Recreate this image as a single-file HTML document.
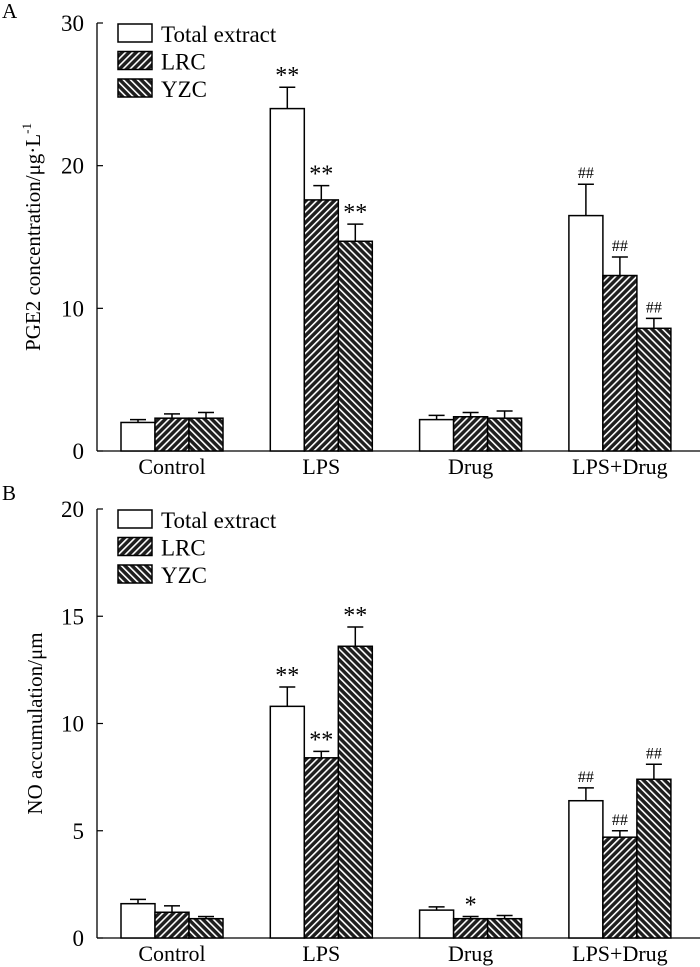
<!DOCTYPE html>
<html><head><meta charset="utf-8">
<style>
body{margin:0;background:#fff;}
svg{display:block;font-family:"Liberation Serif",serif;}
</style></head>
<body>
<svg id="chart" width="700" height="967" viewBox="0 0 700 967" xmlns="http://www.w3.org/2000/svg">
<defs>
<pattern id="pLRC" patternUnits="userSpaceOnUse" width="5" height="5" patternTransform="rotate(45)">
<rect width="5" height="5" fill="#1e1e1e"/><rect x="0" y="0" width="1.6" height="5" fill="#fff"/>
</pattern>
<pattern id="pYZC" patternUnits="userSpaceOnUse" width="5" height="5" patternTransform="rotate(-45)">
<rect width="5" height="5" fill="#1e1e1e"/><rect x="0" y="0" width="1.6" height="5" fill="#fff"/>
</pattern>
</defs>
<g id="root"></g>
</svg>
<script>
const categories = ["Control","LPS","Drug","LPS+Drug"];
const seriesNames = ["Total extract","LRC","YZC"];
// Panel A: PGE2
const pgeTotal = [2.0, 24.0, 2.2, 16.5];
const pgeLRC   = [2.3, 17.6, 2.4, 12.3];
const pgeYZC   = [2.3, 14.7, 2.3, 8.6];
const pgeTotalErr = [0.2, 1.5, 0.3, 2.2];
const pgeLRCErr   = [0.3, 1.0, 0.3, 1.3];
const pgeYZCErr   = [0.4, 1.2, 0.5, 0.7];
const pgeMarks = [["","",""],["**","**","**"],["","",""],["##","##","##"]];
const pgeTicks = [0,10,20,30];
// Panel B: NO
const noTotal = [1.6, 10.8, 1.3, 6.4];
const noLRC   = [1.2, 8.4, 0.9, 4.7];
const noYZC   = [0.9, 13.6, 0.9, 7.4];
const noTotalErr = [0.2, 0.9, 0.15, 0.6];
const noLRCErr   = [0.3, 0.3, 0.1, 0.3];
const noYZCErr   = [0.1, 0.9, 0.15, 0.7];
const noMarks = [["","",""],["**","**","**"],["","*",""],["##","##","##"]];
const noTicks = [0,5,10,15,20];

const NS="http://www.w3.org/2000/svg";
const root=document.getElementById('root');
function el(tag,attrs,parent){const e=document.createElementNS(NS,tag);for(const k in attrs)e.setAttribute(k,attrs[k]);(parent||root).appendChild(e);return e;}
const fills=["#fff","url(#pLRC)","url(#pYZC)"];

function panel(opt){
  const g=el('g',{});
  
  
  const y=v=>opt.y0-(v/opt.max)*(opt.y0-opt.yTop);
  const ax=97, xEnd=700;
  const xc=i=>172+i*149.3;
  const bw=34;
  const yAxis=el('line',{x1:ax,y1:opt.yTop,x2:ax,y2:opt.y0,stroke:'#000','stroke-width':1.3},g);
  
  
  const xAxis=el('line',{x1:ax,y1:opt.y0,x2:xEnd,y2:opt.y0,stroke:'#000','stroke-width':1.3},g);
  
  
  opt.ticks.forEach(t=>{
    el('line',{x1:ax,y1:y(t),x2:ax+6,y2:y(t),stroke:'#000','stroke-width':1.2},g);
    const tl=el('text',{x:84,y:y(t)+8,'text-anchor':'end','font-size':23},g);
    tl.textContent=t;
    
    
  });
  categories.forEach((c,i)=>{
    const cl=el('text',{x:xc(i),y:opt.y0+23,'text-anchor':'middle','font-size':22},g);
    cl.textContent=c;
    
    
    opt.vals.forEach((arr,s)=>{
      const x0=xc(i)-1.5*bw+s*bw;
      const top=y(arr[i]);
      const eTop=y(arr[i]+opt.errs[s][i]);
      const cx=x0+bw/2;
      el('line',{x1:cx,y1:top,x2:cx,y2:eTop,stroke:'#000','stroke-width':1.5},g);
      el('line',{x1:cx-8,y1:eTop,x2:cx+8,y2:eTop,stroke:'#000','stroke-width':1.5},g);
      const r=el('rect',{x:x0,y:top,width:bw,height:opt.y0-top,fill:fills[s],stroke:'#000','stroke-width':1.5},g);
      
      
      const m=opt.marks[i][s];
      if(m){
        const mt=el('text',{x:cx,y:eTop-(m[0]=='#'?6:4),'text-anchor':'middle','font-size':m[0]=='#'?16:24},g);
        mt.textContent=m;
        
        
      }
    });
  });
  const tt=el('text',{x:0,y:0,'text-anchor':'middle','font-size':21,transform:`translate(${opt.titleX},${(opt.yTop+opt.y0)/2}) rotate(-90)`},g);
  tt.innerHTML=opt.title;
  
  
  const pl=el('text',{x:2,y:opt.letterY,'font-size':21},g);
  pl.textContent=opt.letter;
  
  
  seriesNames.forEach((n,s)=>{
    const ly=opt.yTop+1+s*27.5;
    const lr=el('rect',{x:118,y:ly,width:34,height:18,fill:fills[s],stroke:'#000','stroke-width':1.5},g);
    
    
    const lt=el('text',{x:161,y:ly+18,'font-size':23},g);
    lt.textContent=n;
    
    
  });
}
panel({name:'panel-a-pge2',y0:451,yTop:23,max:30,ticks:pgeTicks,vals:[pgeTotal,pgeLRC,pgeYZC],errs:[pgeTotalErr,pgeLRCErr,pgeYZCErr],marks:pgeMarks,title:'PGE2 concentration/μg·L<tspan dy="-9" font-size="13">-1</tspan>',titleX:40,letter:'A',letterY:18});
panel({name:'panel-b-no',y0:938,yTop:509,max:20,ticks:noTicks,vals:[noTotal,noLRC,noYZC],errs:[noTotalErr,noLRCErr,noYZCErr],marks:noMarks,title:'NO accumulation/μm',titleX:42,letter:'B',letterY:500});
</script>
</body></html>
